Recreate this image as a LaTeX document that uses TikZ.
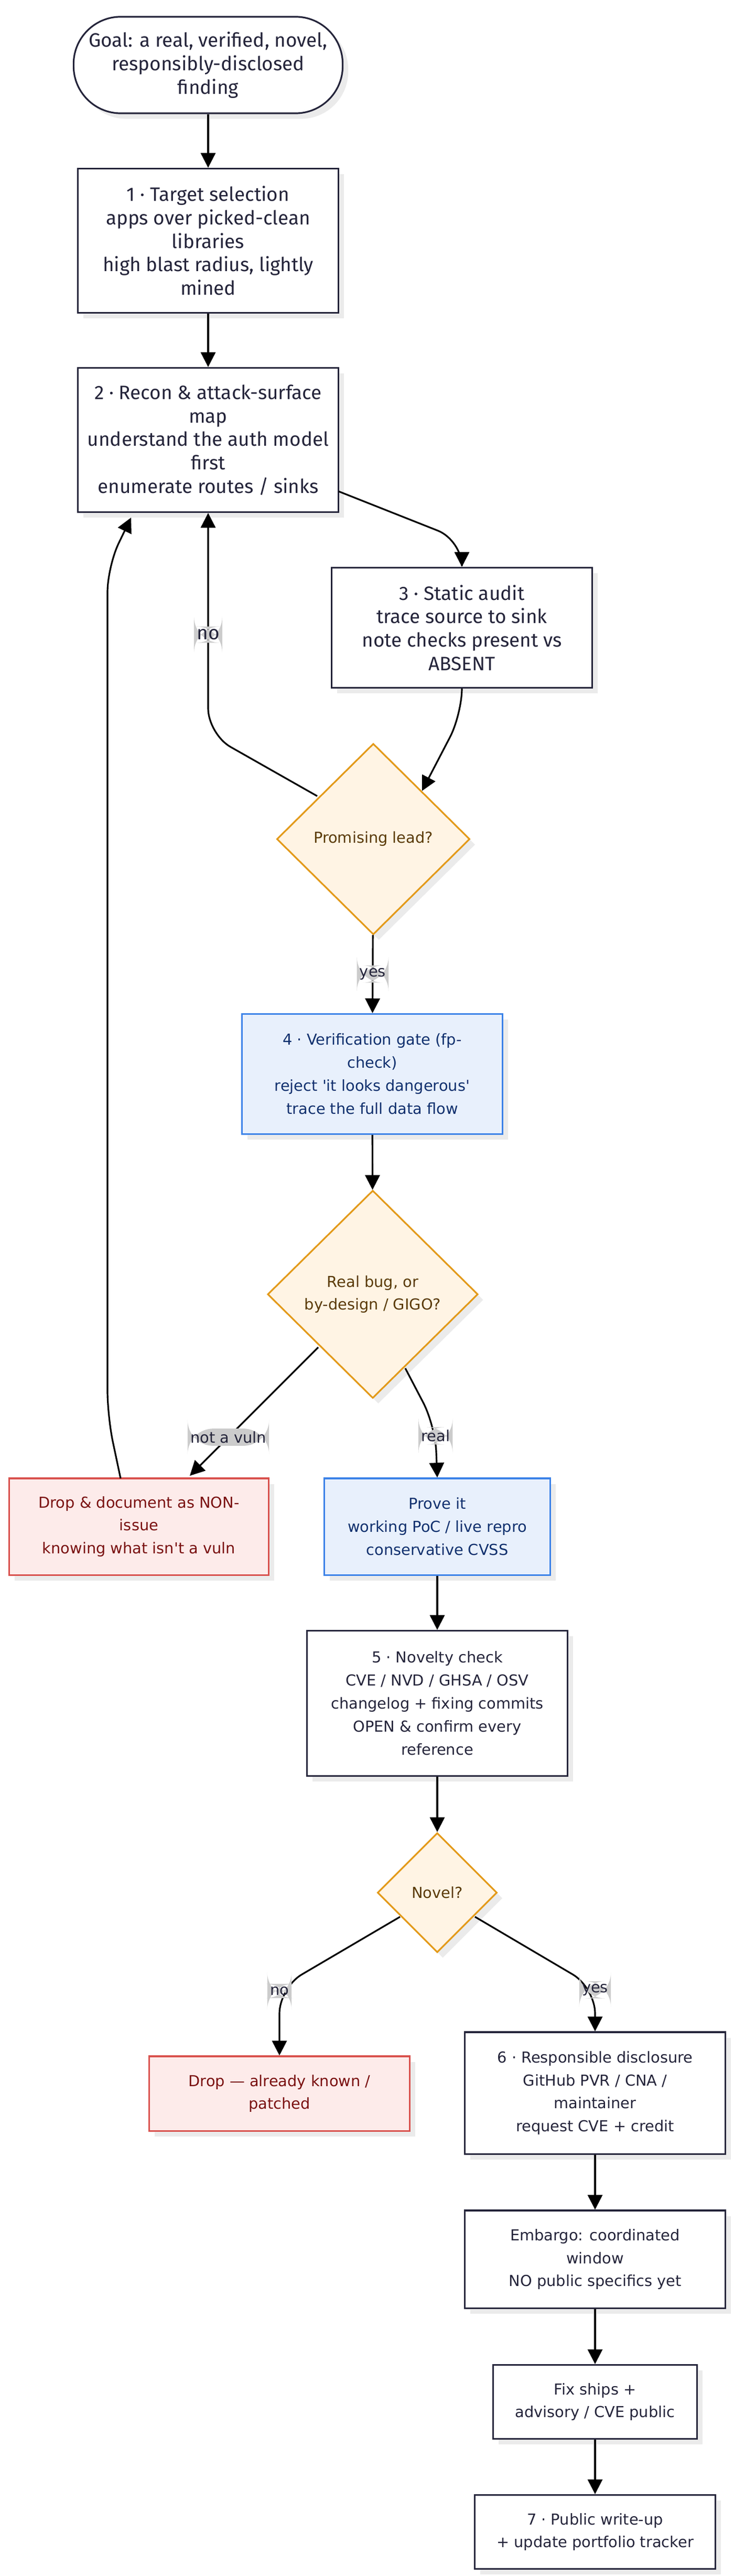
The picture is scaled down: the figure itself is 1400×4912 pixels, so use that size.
\documentclass[tikz,border=0pt]{standalone}
\usepackage{fontspec}
\setmainfont{Fira Sans}
\newfontfamily\widefont{DejaVu Sans}
\usetikzlibrary{arrows.meta,shapes.geometric,shadows}
\definecolor{ink}{HTML}{24243A}
\definecolor{ornline}{HTML}{E39A1A}
\definecolor{ornfill}{HTML}{FFF4E4}
\definecolor{orntext}{HTML}{5A3A05}
\definecolor{blueline}{HTML}{3D83E8}
\definecolor{bluefill}{HTML}{E8F0FC}
\definecolor{bluetext}{HTML}{10306E}
\definecolor{redline}{HTML}{D9524E}
\definecolor{redfill}{HTML}{FDEBEA}
\definecolor{redtext}{HTML}{7A1010}
\begin{document}
\begin{tikzpicture}[x=0.01cm,y=-0.01cm,>={Triangle[length=8pt,width=8pt]},
  line width=0.9pt,
  boxshadow/.style={drop shadow={fill=black!8,opacity=1,shadow xshift=3pt,shadow yshift=-3pt}},
  bigtxt/.style={font=\fontsize{10.5}{12.7}\selectfont},
  smalltxt/.style={font=\widefont\fontsize{8.2}{12.5}\selectfont},
  stage/.style={draw=ink,fill=white,align=center,text=ink,boxshadow,inner sep=0pt},
  check/.style={diamond,draw=ornline,fill=ornfill,text=orntext,align=center,smalltxt,boxshadow,inner sep=0pt},
  verify/.style={stage,draw=blueline,fill=bluefill,text=bluetext,smalltxt},
  dropbox/.style={stage,draw=redline,fill=redfill,text=redtext,smalltxt},
  tag/.style={fill=black!20,text=ink,inner sep=1.5pt,smalltxt},
  flow/.style={->,black,rounded corners=14pt}]
  \useasboundingbox (0,0) rectangle (1400,4912);

  \node [stage,bigtxt,rounded corners=0.9cm,minimum width=5.13cm,minimum height=1.84cm] (goal) at (397,124) {Goal: a real, verified, novel,\\responsibly-disclosed\\finding};
  \node [stage,bigtxt,minimum width=4.97cm,minimum height=2.75cm] (target) at (397,459) {1 · Target selection\\apps over picked-clean\\libraries\\high blast radius, lightly\\mined};
  \node [stage,bigtxt,minimum width=4.97cm,minimum height=2.75cm] (recon) at (397,839) {2 · Recon \& attack-surface\\map\\understand the auth model\\first\\enumerate routes / sinks};
  \node [stage,bigtxt,minimum width=4.97cm,minimum height=2.29cm] (audit) at (881,1197) {3 · Static audit\\trace source to sink\\note checks present vs\\ABSENT};
  \node [check,minimum width=3.68cm,minimum height=3.64cm] (lead) at (712,1600) {Promising lead?};
  \node [verify,minimum width=4.96cm,minimum height=2.29cm] (gate) at (710,2048) {4 · Verification gate (fp-\\check)\\reject 'it looks dangerous'\\trace the full data flow};
  \node [check,minimum width=4.01cm,minimum height=3.96cm] (real) at (711,2468) {Real bug, or\\by-design / GIGO?};
  \node [dropbox,minimum width=4.95cm,minimum height=1.84cm] (nonissue) at (265,2911) {Drop \& document as NON-\\issue\\knowing what isn't a vuln};
  \node [verify,minimum width=4.30cm,minimum height=1.84cm] (prove) at (834,2911) {Prove it\\working PoC / live repro\\conservative CVSS};
  \node [stage,smalltxt,minimum width=4.96cm,minimum height=2.77cm] (novelty) at (834,3248) {5 · Novelty check\\CVE / NVD / GHSA / OSV\\changelog + fixing commits\\OPEN \& confirm every\\reference};
  \node [check,minimum width=2.28cm,minimum height=2.28cm] (novel) at (834,3609) {Novel?};
  \node [dropbox,minimum width=4.97cm,minimum height=1.42cm] (known) at (533,3992) {Drop — already known /\\patched};
  \node [stage,smalltxt,minimum width=4.96cm,minimum height=2.32cm] (disclose) at (1135,3991) {6 · Responsible disclosure\\GitHub PVR / CNA /\\maintainer\\request CVE + credit};
  \node [stage,smalltxt,minimum width=4.96cm,minimum height=1.86cm] (embargo) at (1135,4308) {Embargo: coordinated\\window\\NO public specifics yet};
  \node [stage,smalltxt,minimum width=3.88cm,minimum height=1.41cm] (fix) at (1135,4580) {Fix ships +\\advisory / CVE public};
  \node [stage,smalltxt,minimum width=4.59cm,minimum height=1.41cm] (writeup) at (1135,4828) {7 · Public write-up\\+ update portfolio tracker};

  % bend points
  \coordinate (r1) at (646,937);
  \coordinate (r2) at (881,1030);
  \coordinate (a1) at (881,1362);
  \coordinate (l1) at (605,1518);
  \coordinate (l2) at (397,1400);
  \coordinate (n1) at (230,2819);
  \coordinate (n2) at (205,2701);
  \coordinate (n3) at (205,1080);
  \coordinate (n4) at (250,987);
  \coordinate (v1) at (607,2569);
  \coordinate (v2) at (362,2814);
  \coordinate (p1) at (773,2609);
  \coordinate (p2) at (830,2718);
  \coordinate (k1) at (763,3655);
  \coordinate (k2) at (533,3790);
  \coordinate (d1) at (906,3655);
  \coordinate (d2) at (1135,3790);

  \draw [flow] (goal) -- (target);
  \draw [flow] (target) -- (recon);
  \draw [flow] (r1) -- (r2) -- (audit.north);
  \draw [flow] (audit.south) -- (a1) -- (lead.north east);
  \draw [flow] (l1) -- (l2) -- node [tag,pos=0.45,font=\fontsize{10.5}{12}\selectfont] {no} (recon.south);
  \draw [flow] (lead) -- node [tag] {yes} (gate);
  \draw [flow] (gate) -- (real);
  \draw [flow] (v1) -- node [tag,pos=0.7] {not a vuln} (v2);
  \draw [flow] (p1) -- (p2) -- node [tag,pos=0.2] {real} (prove.north);
  \draw [flow] (n1) -- (n2) -- (n3) -- (n4);
  \draw [flow] (prove) -- (novelty);
  \draw [flow] (novelty) -- (novel);
  \draw [flow] (k1) -- (k2) -- node [tag,pos=0.05] {no} (known.north);
  \draw [flow] (d1) -- (d2) -- node [tag,pos=0.05] {yes} (disclose.north);
  \draw [flow] (disclose) -- (embargo);
  \draw [flow] (embargo) -- (fix);
  \draw [flow] (fix) -- (writeup);
\end{tikzpicture}
\end{document}
